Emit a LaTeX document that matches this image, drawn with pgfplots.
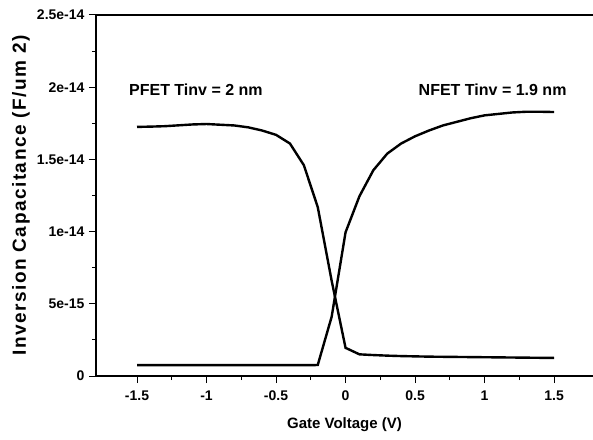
\documentclass[border=0pt]{standalone}
\usepackage{fontspec}
\setmainfont{Liberation Sans}
\newfontfamily\spacedfont[LetterSpace=8]{Liberation Sans}
\usepackage{pgfplots}
\pgfplotsset{compat=1.18}

\begin{document}
\begin{tikzpicture}[x=1pt,y=1pt]
\useasboundingbox (0,0) rectangle (593,439);
\begin{axis}[
    at={(96pt,63pt)}, anchor=south west,
    scale only axis,
    width=497pt, height=361pt,
    xmin=-1.795, xmax=1.78,
    ymin=0, ymax=2.5e-14,
    axis x line=box, axis y line=left,
    axis line style={line width=1.8pt, -},
    xtick pos=bottom, ytick pos=left,
    tick align=outside,
    major tick length=7pt, minor tick length=4pt,
    every tick/.style={black, line width=1pt},
    xtick={-1.5,-1,-0.5,0,0.5,1,1.5},
    xticklabels={-1.5,-1,-0.5,0,0.5,1,1.5},
    ytick={0,5e-15,1e-14,1.5e-14,2e-14,2.5e-14},
    yticklabels={0,5e-15,1e-14,1.5e-14,2e-14,2.5e-14},
    scaled y ticks=false,
    minor x tick num=1, minor y tick num=1,
    ticklabel style={font=\fontsize{14}{16}\selectfont\bfseries},
    xticklabel style={yshift=-4pt},
    yticklabel style={xshift=-1pt},
    xlabel={Gate Voltage (V)},
    xlabel style={at={(axis description cs:0.5,0)}, anchor=center, yshift=-49pt,
        font=\fontsize{15}{17}\selectfont\bfseries},
    ylabel={Inversion Capacitance (F/um 2)},
    ylabel style={at={(axis description cs:0,0.5)}, anchor=center, yshift=75pt,
        font=\fontsize{19}{21}\spacedfont\bfseries},
    clip=false,
]
% PFET
\addplot[black, line width=2.4pt] coordinates {
    (-1.5,1.725e-14)(-1.4,1.727e-14)(-1.3,1.73e-14)(-1.2,1.736e-14)(-1.1,1.742e-14)
    (-1.0,1.745e-14)(-0.9,1.74e-14)(-0.8,1.735e-14)(-0.7,1.722e-14)(-0.6,1.70e-14)
    (-0.5,1.67e-14)(-0.4,1.61e-14)(-0.3,1.46e-14)(-0.2,1.17e-14)(-0.1,6.6e-15)
    (0,1.95e-15)(0.1,1.5e-15)(0.2,1.45e-15)(0.3,1.41e-15)(0.4,1.38e-15)
    (0.5,1.36e-15)(0.6,1.34e-15)(0.7,1.33e-15)(0.8,1.32e-15)(0.9,1.31e-15)
    (1.0,1.3e-15)(1.1,1.29e-15)(1.2,1.28e-15)(1.3,1.27e-15)(1.4,1.26e-15)(1.5,1.25e-15)
};
% NFET
\addplot[black, line width=2.4pt] coordinates {
    (-1.5,7.5e-16)(-1.4,7.5e-16)(-1.3,7.5e-16)(-1.2,7.5e-16)(-1.1,7.5e-16)
    (-1.0,7.5e-16)(-0.9,7.5e-16)(-0.8,7.5e-16)(-0.7,7.5e-16)(-0.6,7.5e-16)
    (-0.5,7.5e-16)(-0.4,7.5e-16)(-0.3,7.5e-16)(-0.2,7.6e-16)(-0.1,4.1e-15)
    (0,9.95e-15)(0.1,1.245e-14)(0.2,1.425e-14)(0.3,1.54e-14)(0.4,1.61e-14)
    (0.5,1.66e-14)(0.6,1.70e-14)(0.7,1.735e-14)(0.8,1.76e-14)(0.9,1.785e-14)
    (1.0,1.805e-14)(1.1,1.815e-14)(1.2,1.825e-14)(1.3,1.83e-14)(1.4,1.83e-14)(1.5,1.828e-14)
};
\node[anchor=west, inner sep=0pt, font=\fontsize{16}{18}\selectfont\bfseries]
    at (axis cs:-1.558,1.98e-14) {PFET Tinv = 2 nm};
\node[anchor=west, inner sep=0pt, font=\fontsize{16}{18}\selectfont\bfseries]
    at (axis cs:0.525,1.98e-14) {NFET Tinv = 1.9 nm};
\end{axis}
\end{tikzpicture}
\end{document}
